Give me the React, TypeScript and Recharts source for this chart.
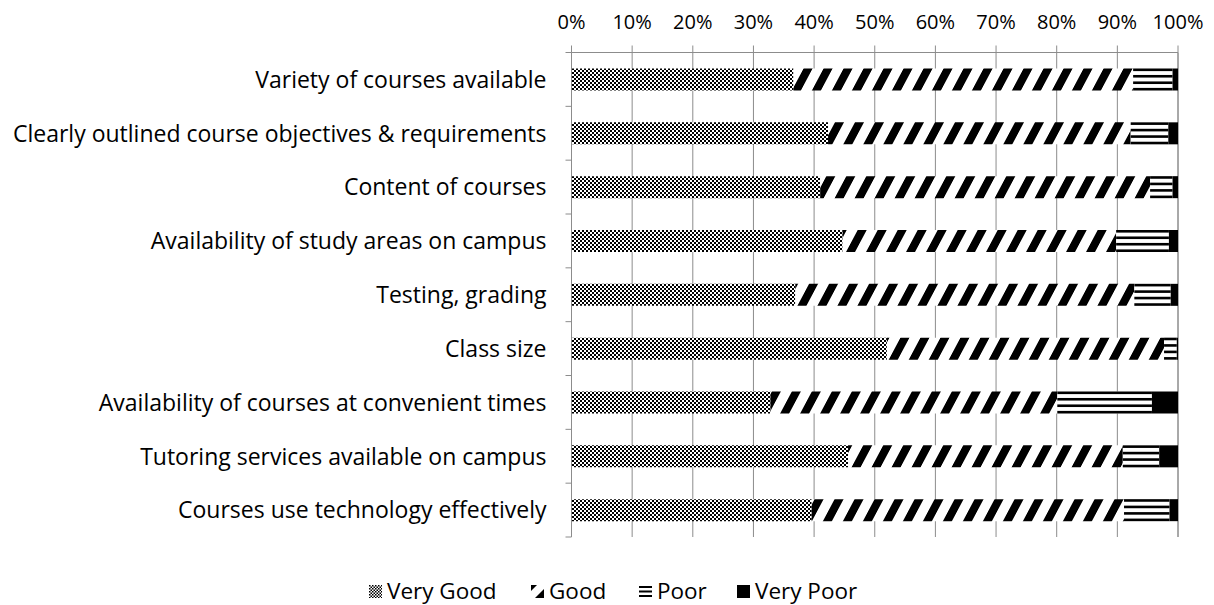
import { BarChart, Bar, XAxis, YAxis, CartesianGrid } from "recharts";

const categories = [
  "Variety of courses available",
  "Clearly outlined course objectives & requirements",
  "Content of courses",
  "Availability of study areas on campus",
  "Testing, grading",
  "Class size",
  "Availability of courses at convenient times",
  "Tutoring services available on campus",
  "Courses use technology effectively",
];

// percent of responses per category
const veryGood = [36.6, 42.3, 41.0, 44.7, 36.9, 52.0, 32.8, 45.6, 39.6];
const good = [56.0, 49.9, 54.4, 45.1, 55.9, 45.7, 47.3, 45.3, 51.5];
const poor = [6.5, 6.2, 3.7, 8.7, 6.0, 2.1, 15.6, 6.0, 7.5];
const veryPoor = [0.9, 1.6, 0.9, 1.5, 1.2, 0.2, 4.3, 3.1, 1.4];

const xTicks = [0, 10, 20, 30, 40, 50, 60, 70, 80, 90, 100];

const data = categories.map((name, i) => ({
  name,
  veryGood: veryGood[i],
  good: good[i],
  poor: poor[i],
  veryPoor: veryPoor[i],
}));

const W = 1214;
const H = 605;
const MARGIN = { top: 22.5, right: 36, bottom: 68, left: 0 };
const X_AXIS_H = 30;
const Y_AXIS_W = 571.5;
const AXIS_X = MARGIN.left + Y_AXIS_W;
const BAND = (H - MARGIN.top - MARGIN.bottom - X_AXIS_H) / categories.length;
const GRID = "#8c8c8c";
const FONT = "'Open Sans', sans-serif";

// eslint-disable-next-line @typescript-eslint/no-explicit-any
function CategoryTick({ x, y, payload, index }: any) {
  return (
    <g>
      <line x1={AXIS_X - 6} x2={AXIS_X} y1={y - BAND / 2} y2={y - BAND / 2} stroke={GRID} />
      {index === categories.length - 1 && (
        <line x1={AXIS_X - 6} x2={AXIS_X} y1={y + BAND / 2} y2={y + BAND / 2} stroke={GRID} />
      )}
      <text x={x} y={y} dy="0.36em" textAnchor="end" fill="#000" fontSize={23} fontFamily={FONT}>
        {payload.value}
      </text>
    </g>
  );
}

// eslint-disable-next-line @typescript-eslint/no-explicit-any
function PercentTick({ x, y, payload }: any) {
  return (
    <text x={x} y={y} textAnchor="middle" fill="#000" fontSize={20} fontFamily={FONT}>
      {`${payload.value}%`}
    </text>
  );
}

// eslint-disable-next-line @typescript-eslint/no-explicit-any
function PoorShape({ x, y, width, height }: any) {
  if (!width || width <= 0) return null;
  const lineH = 2.6;
  const step = (height - lineH) / 3;
  return (
    <g>
      <rect x={x} y={y} width={width} height={height} fill="#fff" />
      {[0, 1, 2, 3].map((k) => (
        <rect key={k} x={x} y={y + k * step} width={width} height={lineH} fill="#000" />
      ))}
    </g>
  );
}

function LegendIcon({ kind }: { kind: string }) {
  return (
    <svg width={13} height={13} style={{ marginRight: 5 }}>
      {kind === "veryGood" && <rect width={13} height={13} fill="url(#checkIcon)" />}
      {kind === "good" && (
        <g>
          <polygon points="0,0 6,0 0,6" fill="#000" />
          <polygon points="13,4 13,13 4,13" fill="#000" />
        </g>
      )}
      {kind === "poor" && (
        <g>
          <rect x={0} y={1} width={13} height={2} fill="#000" />
          <rect x={0} y={5.5} width={13} height={2} fill="#000" />
          <rect x={0} y={10} width={13} height={2} fill="#000" />
        </g>
      )}
      {kind === "veryPoor" && <rect width={13} height={13} fill="#000" />}
    </svg>
  );
}

const legendItems = [
  { key: "veryGood", label: "Very Good", left: 369 },
  { key: "good", label: "Good", left: 531 },
  { key: "poor", label: "Poor", left: 639 },
  { key: "veryPoor", label: "Very Poor", left: 737 },
];

export default function App() {
  return (
    <div style={{ position: "absolute", left: 0, top: 0, width: W, height: H, background: "#fff" }}>
      <BarChart width={W} height={H} data={data} layout="vertical" margin={MARGIN} barCategoryGap={16}>
        <defs>
          <pattern id="checker" patternUnits="userSpaceOnUse" width={4} height={4}>
            <rect width={4} height={4} fill="#fff" />
            <rect x={0} y={0} width={2} height={2} fill="#000" />
            <rect x={2} y={2} width={2} height={2} fill="#000" />
          </pattern>
          <pattern id="checkIcon" patternUnits="userSpaceOnUse" width={3} height={3}>
            <rect width={3} height={3} fill="#fff" />
            <rect x={0} y={0} width={1.5} height={1.5} fill="#000" />
            <rect x={1.5} y={1.5} width={1.5} height={1.5} fill="#000" />
          </pattern>
          <pattern
            id="diag"
            patternUnits="userSpaceOnUse"
            width={20}
            height={10}
            patternTransform="skewX(-28)"
          >
            <rect width={20} height={10} fill="#fff" />
            <rect x={0} y={0} width={9} height={10} fill="#000" />
          </pattern>
        </defs>
        <CartesianGrid vertical horizontal={false} stroke={GRID} />
        <XAxis
          type="number"
          orientation="top"
          domain={[0, 100]}
          ticks={xTicks}
          height={X_AXIS_H}
          tick={<PercentTick />}
          tickSize={7}
          tickMargin={17}
          stroke={GRID}
          interval={0}
        />
        <YAxis
          type="category"
          dataKey="name"
          width={Y_AXIS_W}
          tick={<CategoryTick />}
          tickLine={false}
          tickSize={0}
          tickMargin={25}
          stroke={GRID}
          interval={0}
        />
        <Bar dataKey="veryGood" stackId="a" fill="url(#checker)" isAnimationActive={false} />
        <Bar dataKey="good" stackId="a" fill="url(#diag)" isAnimationActive={false} />
        <Bar dataKey="poor" stackId="a" shape={<PoorShape />} isAnimationActive={false} />
        <Bar dataKey="veryPoor" stackId="a" fill="#000" isAnimationActive={false} />
      </BarChart>
      {legendItems.map((it) => (
        <div
          key={it.key}
          style={{
            position: "absolute",
            left: it.left,
            top: 579,
            height: 24,
            display: "flex",
            alignItems: "center",
            fontFamily: FONT,
            fontSize: 22.5,
            lineHeight: "24px",
            color: "#000",
            whiteSpace: "nowrap",
          }}
        >
          <LegendIcon kind={it.key} />
          <span>{it.label}</span>
        </div>
      ))}
    </div>
  );
}
